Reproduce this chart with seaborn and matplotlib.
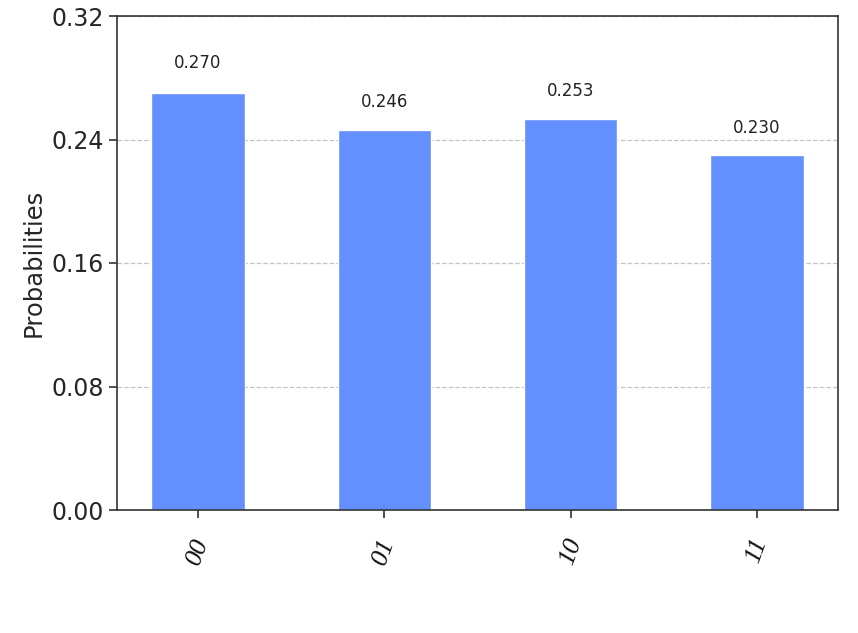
import numpy as np
import pandas as pd
import seaborn as sns
import matplotlib
matplotlib.use("Agg")
import matplotlib.pyplot as plt

# measured states and their probabilities
estados = ["00", "01", "10", "11"]
probabilidades = [0.270, 0.246, 0.253, 0.230]
marcas_y = [0.00, 0.08, 0.16, 0.24, 0.32]

df = pd.DataFrame({"estado": estados, "prob": probabilidades})

sns.set_style("white")
plt.rcParams["font.family"] = ["DejaVu Sans"]

fig = plt.figure(figsize=(8.58, 6.33), dpi=100)
ax = fig.add_axes([117 / 858, 1 - 510 / 633, (838 - 117) / 858, (510 - 16) / 633])

sns.barplot(data=df, x="estado", y="prob", color="#648fff", saturation=1,
            width=0.5, ax=ax, zorder=2)

# value labels above each bar
for p in ax.patches:
    h = p.get_height()
    ax.text(p.get_x() + p.get_width() / 2, 1.05 * h, "%.3f" % h,
            ha="center", va="bottom", fontsize=12, color="#222222")

ax.set_xlim(-0.435, 3.435)
ax.set_ylim(0, 0.32)
ax.set_yticks(marcas_y)
ax.set_yticklabels(["%.2f" % v for v in marcas_y], fontsize=17)
ax.set_xticks(range(len(estados)))
ax.set_xticklabels(estados, rotation=70, fontsize=19, family="Liberation Serif",
                   style="italic", color="#111111")
ax.set_xlabel("")
ax.set_ylabel("Probabilities", fontsize=17.5)
ax.grid(axis="y", linestyle="--", color="#c4c4c4", linewidth=0.9, zorder=0)
ax.tick_params(axis="both", which="major", length=6, width=1.2, color="#333333",
               bottom=True, left=True)
ax.tick_params(axis="x", pad=12)
for s in ax.spines.values():
    s.set_color("#333333")
    s.set_linewidth(1.2)

fig.savefig("out.png", dpi=100)
